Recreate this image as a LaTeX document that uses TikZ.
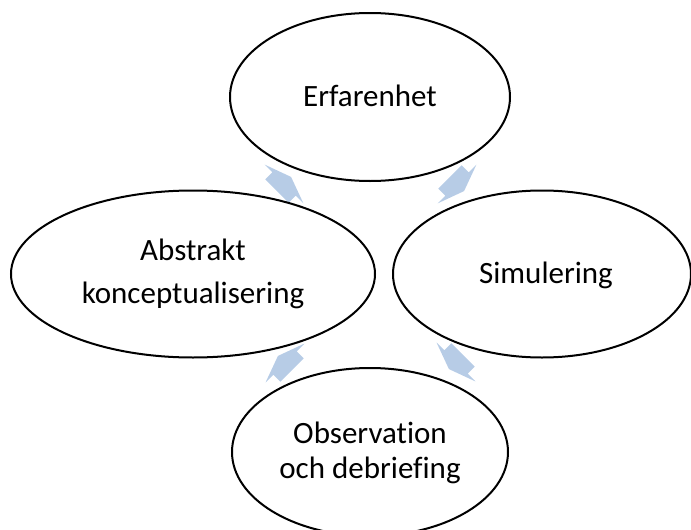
\documentclass[tikz,border=0pt]{standalone}
\usepackage{fontspec}
\setmainfont{Carlito}[Ligatures=NoCommon]
\usetikzlibrary{calc,shapes.geometric}
\definecolor{arrowblue}{HTML}{B7CCE6}
\pgfdeclarelayer{background}
\pgfsetlayers{background,main}
\begin{document}
\begin{tikzpicture}[x=1pt,y=-1pt,
  blob/.style={ellipse, draw=black, line width=2pt, fill=white, inner sep=0pt},
  lbl/.style={anchor=base, inner sep=0pt, font=\fontsize{31}{36}\selectfont},
  cycarrow/.pic={\fill[arrowblue] (-10,-16.5) -- (0,-16.5) -- (0,-27.5) -- (10,0) -- (0,27.5) -- (0,16.5) -- (-10,16.5) -- cycle;}]
\useasboundingbox (0,0) rectangle (691,530);
\clip (0,0) rectangle (691,530);
% ellipses
\node[blob, minimum width=280pt, minimum height=168pt] (erf) at (370,97) {};
\node[blob, minimum width=364pt, minimum height=167pt] (abs) at (193,274) {};
\node[blob, minimum width=298pt, minimum height=167pt] (sim) at (542,274) {};
\node[blob, minimum width=276pt, minimum height=168pt] (obs) at (370,452) {};
% labels
\node[lbl] (erfT) at (370,106) {Erfarenhet};
\node[lbl] (absT1) at (193,260) {Abstrakt};
\node[lbl] (absT2) at (193,303) {konceptualisering};
\node[lbl] (simT) at (546,283) {Simulering};
\node[lbl] (obsT1) at (370,443.5) {Observation};
\node[lbl] (obsT2) at (370,478) {och debriefing};
% cycle arrows
\begin{pgfonlayer}{background}
\pic[rotate=45] at ($(abs)!0.5!(erf)+(2.5,-1.5)$) {cycarrow};
\pic[rotate=-45] at ($(erf)!0.5!(sim)+(1,-1.5)$) {cycarrow};
\pic[rotate=-135] at ($(sim)!0.5!(obs)+(0,-1)$) {cycarrow};
\pic[rotate=135] at ($(obs)!0.5!(abs)+(3.5,0)$) {cycarrow};
\end{pgfonlayer}
\end{tikzpicture}
\end{document}
